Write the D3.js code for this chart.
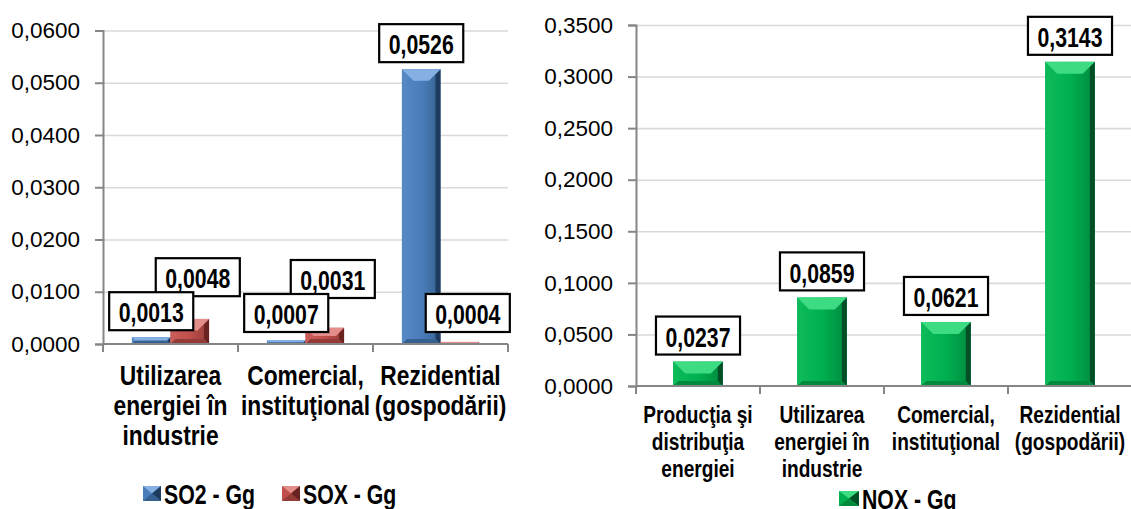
<!DOCTYPE html>
<html>
<head>
<meta charset="utf-8">
<script src="https://cdn.jsdelivr.net/npm/d3@7"></script>
<style>
  html, body { margin: 0; padding: 0; background: #fff; }
  svg { display: block; }
</style>
</head>
<body>
<svg id="chart" width="1131" height="509"></svg>
<script>
// ---- data ----
const sectorsLeft = [
  ["Utilizarea", "energiei în", "industrie"],
  ["Comercial,", "instituţional"],
  ["Rezidential", "(gospodării)"]
];
const so2Values = [0.0013, 0.0007, 0.0526];
const soxValues = [0.0048, 0.0031, 0.0004];
const leftTicks = [0, 0.01, 0.02, 0.03, 0.04, 0.05, 0.06];
const leftSeriesNames = ["SO2 - Gg", "SOX - Gg"];

const sectorsRight = [
  ["Producţia şi", "distribuţia", "energiei"],
  ["Utilizarea", "energiei în", "industrie"],
  ["Comercial,", "instituţional"],
  ["Rezidential", "(gospodării)"]
];
const noxValues = [0.0237, 0.0859, 0.0621, 0.3143];
const rightTicks = [0, 0.05, 0.10, 0.15, 0.20, 0.25, 0.30, 0.35];
const rightSeriesNames = ["NOX - Gg"];

// ---- styling ----
const SANS = '"Liberation Sans", Arial, sans-serif';
const palette = {
  blue:  { main: "#4A7EBB", light: "#86B0E4", left: "#5688C4", dark: "#1E3A5F", bottom: "#35608F" },
  red:   { main: "#C0504D", light: "#E38D8A", left: "#C95C59", dark: "#6A2220", bottom: "#943A37" },
  green: { main: "#00B050", light: "#3DDB82", left: "#0DBA5A", dark: "#004F26", bottom: "#008A3E" }
};

const loc = d3.formatLocale({ decimal: ",", thousands: ".", grouping: [3], currency: ["", ""] });
const fmt = loc.format(".4f");

const svg = d3.select("#chart");
const defs = svg.append("defs");

function makeGradient(id, c) {
  const g = defs.append("linearGradient").attr("id", id)
    .attr("x1", "0%").attr("x2", "100%").attr("y1", "0%").attr("y2", "0%");
  g.append("stop").attr("offset", "0%").attr("stop-color", c.left);
  g.append("stop").attr("offset", "50%").attr("stop-color", c.main);
  g.append("stop").attr("offset", "100%").attr("stop-color", c.bottom);
}
Object.entries(palette).forEach(([k, c]) => makeGradient("grad-" + k, c));

// condensed bold text placed at (x, y)
function narrowText(g, x, y, str, size, sx, anchor = "middle", baseline = "central") {
  return g.append("text")
    .attr("transform", `translate(${x},${y}) scale(${sx},1)`)
    .attr("text-anchor", anchor).attr("dominant-baseline", baseline)
    .attr("font-family", SANS).attr("font-weight", "bold").attr("font-size", size)
    .attr("fill", "#000").text(str);
}

// bevelled bar: body + edge facets
function bevelBar(g, x, y, w, h, colorKey) {
  const c = palette[colorKey];
  const bar = g.append("g");
  bar.append("rect").attr("x", x).attr("y", y).attr("width", w).attr("height", Math.max(h, 0))
    .attr("fill", `url(#grad-${colorKey})`);
  if (h < 1.5) return;
  const b = Math.max(0, Math.min(w * 0.3, h / 2, 12));
  const sb = Math.min(5, b);
  const pts = a => a.map(p => p.join(",")).join(" ");
  bar.append("polygon").attr("fill", c.left)
    .attr("points", pts([[x, y], [x + sb, y + sb], [x + sb, y + h - sb], [x, y + h]]));
  bar.append("polygon").attr("fill", c.dark)
    .attr("points", pts([[x + w, y], [x + w - sb, y + sb], [x + w - sb, y + h - sb], [x + w, y + h]]));
  bar.append("polygon").attr("fill", c.bottom)
    .attr("points", pts([[x, y + h], [x + sb, y + h - sb], [x + w - sb, y + h - sb], [x + w, y + h]]));
  bar.append("polygon").attr("fill", c.light)
    .attr("points", pts([[x, y], [x + w, y], [x + w - b, y + b], [x + b, y + b]]));
}

function legendMarker(g, x, y, w, h, colorKey) {
  const c = palette[colorKey];
  const pts = a => a.map(p => p.join(",")).join(" ");
  g.append("rect").attr("x", x).attr("y", y).attr("width", w).attr("height", h).attr("fill", c.main);
  g.append("polygon").attr("fill", c.light)
    .attr("points", pts([[x, y], [x + w, y], [x + w / 2, y + h / 2]]));
  g.append("polygon").attr("fill", c.dark)
    .attr("points", pts([[x + w, y], [x + w, y + h], [x + w / 2, y + h / 2]]));
  g.append("polygon").attr("fill", c.bottom)
    .attr("points", pts([[x, y + h], [x + w, y + h], [x + w / 2, y + h / 2]]));
}

const BOX_H = 38;
const LABEL_SIZE = 28, LABEL_SX = 0.76;
function labelBox(g, cx, bottom, text) {
  const lg = g.append("g");
  const top = bottom - BOX_H;
  const rect = lg.append("rect");
  const t = narrowText(lg, cx, top + BOX_H / 2 + 1, text, LABEL_SIZE, LABEL_SX);
  const bw = t.node().getComputedTextLength() * LABEL_SX + 19;
  rect.attr("x", cx - bw / 2).attr("y", top).attr("width", bw).attr("height", BOX_H)
    .attr("fill", "#fff").attr("stroke", "#000").attr("stroke-width", 2.2);
  return { x0: cx - bw / 2, x1: cx + bw / 2, top, bottom };
}

function drawGrid(g, y, ticks, x0, x1) {
  g.append("g")
    .attr("transform", `translate(${x0},0)`)
    .call(d3.axisLeft(y).tickValues(ticks).tickSize(-(x1 - x0)).tickFormat(""))
    .call(s => s.select(".domain").remove())
    .call(s => s.selectAll("line").attr("stroke", "#D9D9D9").attr("stroke-width", 1.6));
}

function drawValueAxis(g, y, ticks, x0, fontSize) {
  g.append("g").attr("transform", `translate(${x0},0)`)
    .call(d3.axisLeft(y).tickValues(ticks).tickSize(8).tickPadding(15).tickFormat(fmt))
    .call(s => s.select(".domain").attr("stroke", "#868686").attr("stroke-width", 2))
    .call(s => s.selectAll(".tick line").attr("stroke", "#868686").attr("stroke-width", 2))
    .call(s => s.selectAll(".tick text").attr("font-size", fontSize).attr("fill", "#000")
      .attr("font-family", SANS));
}

function drawCategoryAxis(g, xBand, y0, labels, fontSize, sx, firstBaseline, lineGap) {
  const r = xBand.range();
  g.append("line").attr("x1", r[0]).attr("x2", r[1]).attr("y1", y0).attr("y2", y0)
    .attr("stroke", "#868686").attr("stroke-width", 2);
  const bounds = xBand.domain().map(d => xBand(d)).concat([r[1]]);
  g.selectAll(".ctick").data(bounds).join("line").attr("class", "ctick")
    .attr("x1", d => d).attr("x2", d => d).attr("y1", y0).attr("y2", y0 + 8)
    .attr("stroke", "#868686").attr("stroke-width", 2);
  labels.forEach((lines, i) => {
    lines.forEach((ln, j) => {
      narrowText(g, xBand(i) + xBand.bandwidth() / 2, firstBaseline + j * lineGap, ln,
        fontSize, sx, "middle", "alphabetic");
    });
  });
}

// ---- left chart: SO2 / SOX ----
{
  const g = svg.append("g");
  const x0 = 103, x1 = 508;
  const y = d3.scaleLinear().domain([0, 0.06]).range([344, 30.5]);
  const xCat = d3.scaleBand().domain(d3.range(sectorsLeft.length)).range([x0, x1]).padding(0);
  const xSer = d3.scaleBand().domain([0, 1]).range([0, xCat.bandwidth()])
    .paddingInner(0).paddingOuter(0.75);
  const series = [
    { values: so2Values, color: "blue", dx: 0 },
    { values: soxValues, color: "red", dx: 8 }
  ];

  drawGrid(g, y, leftTicks.slice(1), x0, x1);

  series.forEach((s, si) => {
    s.values.forEach((v, i) => {
      bevelBar(g, xCat(i) + xSer(si), y(v), xSer.bandwidth(), y(0) - y(v), s.color);
    });
  });

  drawValueAxis(g, y, leftTicks, x0, 22.5);
  drawCategoryAxis(g, xCat, y(0), sectorsLeft, 28.5, 0.8, 385, 30);

  // data labels: the second series' label is lifted above the first series'
  // label when the two would collide
  const soxLayer = g.append("g");
  const so2Layer = g.append("g");
  sectorsLeft.forEach((_, i) => {
    const cxA = xCat(i) + xSer(0) + xSer.bandwidth() / 2 + series[0].dx;
    const bottomA = Math.min(y(so2Values[i]) - 7, y(0) - 12);
    const boxA = labelBox(so2Layer, cxA, bottomA, fmt(so2Values[i]));
    const cxB = xCat(i) + xSer(1) + xSer.bandwidth() / 2 + series[1].dx;
    let bottomB = Math.min(y(soxValues[i]) - 7, y(0) - 12);
    const overlapX = Math.abs(cxB - cxA) < (boxA.x1 - boxA.x0);
    const overlapY = bottomB > boxA.top && bottomB - BOX_H < boxA.bottom;
    if (overlapX && overlapY) bottomB = boxA.top + 4;
    labelBox(soxLayer, cxB, bottomB, fmt(soxValues[i]));
  });

  // legend
  const lg = g.append("g");
  [
    { name: leftSeriesNames[0], color: "blue", x: 143 },
    { name: leftSeriesNames[1], color: "red", x: 282 }
  ].forEach(it => {
    legendMarker(lg, it.x, 486, 18, 15, it.color);
    narrowText(lg, it.x + 21, 494, it.name, 28, 0.76, "start");
  });
}

// ---- right chart: NOX ----
{
  const g = svg.append("g");
  const x0 = 636, x1 = 1132;
  const y = d3.scaleLinear().domain([0, 0.35]).range([386, 25]);
  const xCat = d3.scaleBand().domain(d3.range(sectorsRight.length)).range([x0, x1]).padding(0);
  const xSer = d3.scaleBand().domain([0]).range([0, xCat.bandwidth()])
    .paddingInner(0).paddingOuter(0.75);

  drawGrid(g, y, rightTicks.slice(1), x0, x1);

  noxValues.forEach((v, i) => {
    bevelBar(g, xCat(i) + xSer(0), y(v), xSer.bandwidth(), y(0) - y(v), "green");
  });

  drawValueAxis(g, y, rightTicks, x0, 22.5);
  drawCategoryAxis(g, xCat, y(0), sectorsRight, 24.5, 0.78, 423, 27);

  noxValues.forEach((v, i) => {
    labelBox(g, xCat(i) + xCat.bandwidth() / 2, y(v) - 7, fmt(v));
  });

  const lg = g.append("g");
  legendMarker(lg, 839, 491, 20, 15, "green");
  narrowText(lg, 862, 499, rightSeriesNames[0], 28, 0.76, "start");
}
</script>
</body>
</html>
